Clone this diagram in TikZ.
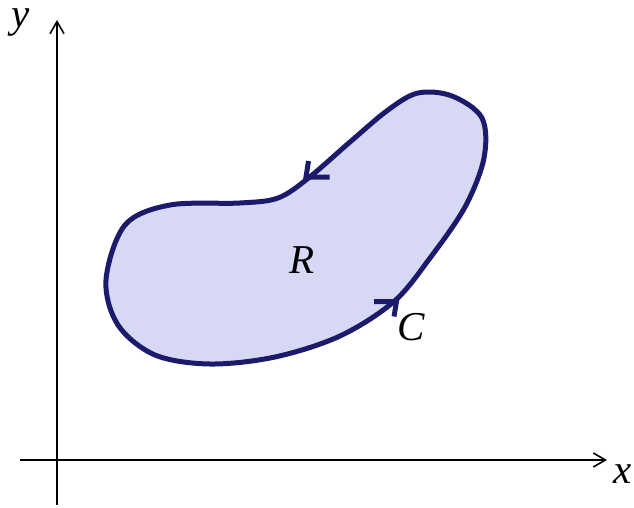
\documentclass[tikz,border=0pt]{standalone}
\usepackage{fontspec}
\setmainfont{Liberation Serif}
\usetikzlibrary{arrows.meta}
\definecolor{regfill}{RGB}{214,216,244}
\definecolor{regline}{RGB}{28,27,107}
\tikzset{
  axis/.style={line width=1.6pt, -{Straight Barb[angle=60:14pt, line width=1.6pt]}},
  boundary/.style={line width=5pt, draw=regline, fill=regfill},
  dirtip/.style={line width=5pt, draw=regline, line cap=butt, line join=miter},
  lab/.style={font=\fontsize{41}{41}\selectfont\itshape, inner sep=0pt}
}
\begin{document}
\begin{tikzpicture}[x=1pt,y=-1pt]
\useasboundingbox (0,0) rectangle (634,508);
\coordinate (t1) at (308.5,177);
\coordinate (t2) at (394,301.5);
\draw[boundary] plot[smooth cycle, tension=0.55] coordinates {
 (240,203) (170,205) (125,225) (106,280) (118,325) (155,355) (210,364)
 (275,357) (340,336) (394,301.5) (430,258) (465,207) (484,158) (482,118)
 (452,96) (418,93) (388,110) (350,142) (308.5,178) (278,198)};
\draw[dirtip] ([yshift=16pt]t1) -- ([xshift=-2.5pt]t1) -- ([xshift=21pt]t1);
\draw[dirtip] ([xshift=-20pt]t2) -- ([xshift=2.5pt]t2) -- ([yshift=-15pt]t2);
\coordinate (xs) at (20,460);
\coordinate (xe) at (607,460);
\coordinate (ys) at (57,505);
\coordinate (ye) at (57,20);
\draw[axis] (xs) -- (xe);
\draw[axis] (ys) -- (ye);
\node[lab] (ylab) at (21,23) {y};
\node[lab] (xlab) at (623,474) {x};
\node[lab] (R) at (302,260) {R};
\node[lab] (C) at (411,327) {C};
\end{tikzpicture}
\end{document}
